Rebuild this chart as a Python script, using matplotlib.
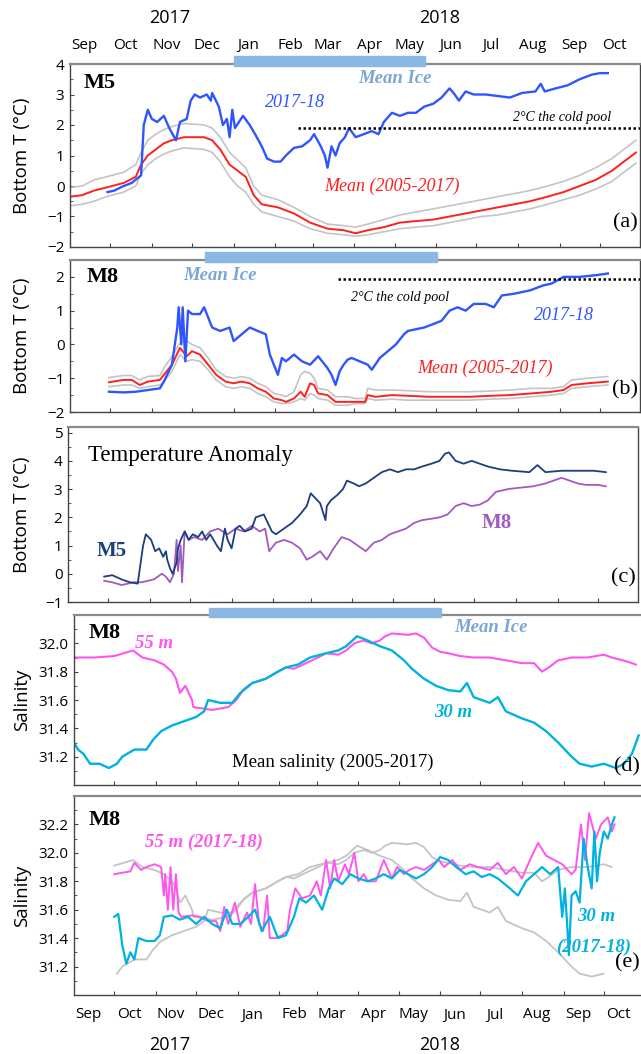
import numpy as np
import pandas as pd
import matplotlib
matplotlib.use('Agg')
import matplotlib.pyplot as plt
import matplotlib.dates as mdates
from matplotlib.patches import Rectangle
from matplotlib.ticker import MultipleLocator
from matplotlib.transforms import blended_transform_factory

# ---- data (days after 2017-09-01) ----
START = pd.Timestamp('2017-09-01')
END = pd.Timestamp('2018-10-31')

months = ['Sep', 'Oct', 'Nov', 'Dec', 'Jan', 'Feb', 'Mar', 'Apr', 'May',
          'Jun', 'Jul', 'Aug', 'Sep', 'Oct']
years = ['2017', '2018']
ice_a = ['2018-01-01', '2018-05-24']
ice_bd = ['2017-12-11', '2018-06-02']

# (a) M5 bottom temperature
m5_obs_day = [28, 33, 40, 46, 53, 55, 58, 61, 65, 70, 74, 79, 82, 87, 90, 93, 97, 102,
              105, 106, 111, 114, 117, 119, 121, 123, 129, 134, 138, 143, 147, 152,
              157, 161, 167, 173, 179, 182, 187, 190, 192, 195, 198, 201, 205, 208,
              213, 219, 225, 230, 234, 240, 246, 252, 258, 264, 271, 277, 283, 286,
              290, 295, 301, 310, 319, 328, 337, 347, 351, 354, 362, 371, 380, 389,
              395, 401]
m5_obs = [-0.2, -0.15, 0.0, 0.1, 0.35, 2.0, 2.5, 2.2, 2.1, 2.3, 1.9, 1.5, 2.1, 2.2,
          2.8, 3.0, 2.9, 3.0, 2.8, 3.05, 2.6, 2.0, 2.2, 1.6, 2.5, 1.9, 2.3, 2.0, 1.7,
          1.3, 0.9, 0.8, 0.8, 1.0, 1.25, 1.3, 1.5, 1.7, 1.3, 1.0, 0.6, 1.3, 1.0, 1.4,
          1.6, 1.9, 1.6, 1.7, 1.8, 1.7, 2.1, 2.4, 2.3, 2.4, 2.4, 2.6, 2.7, 2.9, 3.2,
          3.05, 2.8, 3.1, 3.0, 3.0, 2.95, 2.9, 3.05, 3.1, 3.35, 3.1, 3.2, 3.3, 3.5,
          3.65, 3.7, 3.7]
m5_mean_day = [0, 9, 18, 27, 40, 49, 53, 58, 64, 70, 76, 85, 100, 106, 112, 119, 125,
               131, 137, 143, 155, 167, 179, 192, 204, 213, 222, 234, 246, 258, 271,
               283, 295, 307, 319, 331, 343, 356, 368, 380, 392, 404, 413, 422]
m5_mean = [-0.35, -0.3, -0.15, -0.05, 0.1, 0.3, 0.7, 1.0, 1.2, 1.4, 1.5, 1.6, 1.6, 1.5,
           1.2, 0.7, 0.5, 0.3, -0.3, -0.6, -0.7, -0.9, -1.2, -1.4, -1.45, -1.55, -1.45,
           -1.35, -1.2, -1.15, -1.1, -1.0, -0.9, -0.8, -0.7, -0.6, -0.5, -0.35, -0.2,
           0.0, 0.2, 0.5, 0.8, 1.1]
m5_upper = [-0.05, 0.0, 0.2, 0.3, 0.45, 0.7, 1.1, 1.5, 1.7, 1.85, 1.95, 2.05, 2.0, 1.9,
            1.6, 1.1, 0.85, 0.6, 0.0, -0.3, -0.45, -0.7, -1.0, -1.25, -1.3, -1.35, -1.25,
            -1.1, -0.95, -0.85, -0.75, -0.65, -0.55, -0.45, -0.35, -0.25, -0.15, 0.0,
            0.15, 0.35, 0.6, 0.9, 1.2, 1.5]
m5_lower = [-0.65, -0.6, -0.5, -0.35, -0.2, 0.0, 0.4, 0.7, 0.9, 1.05, 1.15, 1.25, 1.2,
            1.1, 0.8, 0.3, 0.0, -0.2, -0.6, -0.85, -1.0, -1.15, -1.4, -1.55, -1.6, -1.65,
            -1.6, -1.5, -1.4, -1.35, -1.3, -1.2, -1.1, -1.0, -0.95, -0.85, -0.75, -0.6,
            -0.45, -0.3, -0.1, 0.15, 0.45, 0.75]

# (b) M8 bottom temperature
m8_obs_day = [29, 40, 49, 58, 67, 70, 76, 80, 81, 83, 84, 86, 88, 91, 97, 100, 103, 106,
              112, 119, 122, 128, 134, 140, 146, 149, 152, 155, 158, 161, 167, 173, 179,
              185, 192, 195, 198, 201, 204, 207, 210, 216, 222, 225, 231, 237, 243, 249,
              252, 264, 277, 283, 289, 295, 301, 310, 316, 322, 331, 343, 353, 359, 368,
              380, 392, 401]
m8_obs = [-1.4, -1.42, -1.4, -1.35, -1.3, -1.1, -0.6, 0.5, 1.1, 0.0, 1.1, -0.5, 1.0, 0.9,
          0.9, 1.1, 0.8, 0.5, 0.4, 0.5, 0.1, 0.3, 0.5, 0.4, 0.3, -0.3, -0.6, -0.9, -0.4,
          -0.5, -0.3, -0.5, -0.6, -0.35, -0.7, -0.9, -1.2, -0.8, -0.6, -0.45, -0.4, -0.5,
          -0.6, -0.75, -0.4, -0.2, 0.0, 0.3, 0.4, 0.5, 0.7, 1.0, 1.1, 1.0, 1.2, 1.2, 1.1,
          1.45, 1.5, 1.6, 1.75, 1.8, 2.0, 2.0, 2.05, 2.1]
m8_mean_day = [29, 40, 46, 52, 58, 67, 70, 76, 82, 87, 91, 97, 103, 109, 116, 122, 128,
               134, 140, 146, 152, 158, 161, 167, 172, 175, 179, 182, 185, 192, 198, 207,
               213, 220, 222, 228, 240, 252, 268, 283, 298, 313, 328, 344, 359, 368, 374,
               386, 401]
m8_mean = [-1.12, -1.05, -1.05, -1.2, -1.1, -1.05, -0.9, -0.6, -0.1, -0.35, -0.2, -0.3,
           -0.6, -0.9, -1.1, -1.15, -1.1, -1.15, -1.3, -1.4, -1.6, -1.65, -1.7, -1.6, -1.4,
           -1.55, -1.15, -1.2, -1.45, -1.5, -1.7, -1.7, -1.7, -1.7, -1.5, -1.55, -1.5,
           -1.52, -1.55, -1.55, -1.55, -1.52, -1.5, -1.45, -1.4, -1.35, -1.2, -1.15, -1.1]
m8_upper = [-0.98, -0.92, -0.92, -1.05, -0.95, -0.92, -0.7, -0.35, 0.05, 0.1, 0.0, -0.1,
            -0.4, -0.75, -0.95, -1.0, -0.95, -1.0, -1.15, -1.25, -1.45, -1.5, -1.55, -1.4,
            -0.9, -0.8, -0.85, -1.0, -1.3, -1.35, -1.55, -1.55, -1.6, -1.6, -1.3, -1.35,
            -1.35, -1.37, -1.4, -1.4, -1.4, -1.38, -1.35, -1.3, -1.3, -1.25, -1.05, -1.0,
            -0.95]
m8_lower = [-1.25, -1.2, -1.2, -1.3, -1.25, -1.2, -1.1, -0.8, -0.3, -0.5, -0.45, -0.5,
            -0.75, -1.05, -1.25, -1.3, -1.25, -1.3, -1.45, -1.55, -1.7, -1.75, -1.75,
            -1.7, -1.6, -1.65, -1.45, -1.5, -1.6, -1.65, -1.8, -1.8, -1.75, -1.75, -1.6,
            -1.65, -1.62, -1.65, -1.65, -1.65, -1.65, -1.62, -1.6, -1.55, -1.5, -1.45,
            -1.3, -1.25, -1.2]

# (c) temperature anomaly
anom_m5_day = [27, 33, 40, 46, 52, 53, 56, 58, 62, 65, 68, 71, 73, 74, 76, 78, 81, 82, 84,
               87, 90, 93, 97, 100, 103, 106, 111, 114, 117, 119, 122, 125, 128, 132, 137,
               140, 146, 149, 152, 155, 161, 167, 173, 178, 181, 184, 188, 192, 193, 196,
               201, 205, 208, 213, 217, 222, 228, 234, 240, 246, 252, 258, 264, 271, 277,
               281, 284, 289, 295, 301, 307, 313, 322, 331, 344, 350, 356, 368, 380, 392,
               401]
anom_m5 = [-0.1, -0.05, -0.2, -0.3, -0.35, 0.0, 1.0, 1.4, 1.2, 0.8, 0.9, 0.6, 0.8, 0.5,
           0.2, 0.0, 0.4, 0.9, 1.2, 1.5, 1.2, 1.4, 1.3, 1.5, 1.2, 1.4, 1.0, 0.8, 1.6, 1.2,
           0.9, 1.6, 1.7, 1.5, 1.6, 2.0, 2.1, 1.8, 1.5, 1.4, 1.6, 1.8, 2.1, 2.4, 2.85, 2.7,
           2.5, 1.9, 2.4, 2.6, 2.8, 3.0, 3.3, 3.2, 3.1, 3.2, 3.4, 3.6, 3.7, 3.6, 3.7, 3.7,
           3.8, 3.9, 4.0, 4.25, 4.3, 4.0, 3.9, 4.0, 3.9, 3.8, 3.7, 3.65, 3.6, 3.85, 3.6,
           3.65, 3.65, 3.65, 3.6]
anom_m8_day = [27, 33, 40, 49, 55, 64, 70, 73, 76, 79, 81, 82, 84, 85, 87, 90, 94, 100,
               106, 112, 119, 125, 131, 137, 143, 147, 150, 155, 161, 167, 173, 178, 182,
               188, 193, 198, 204, 210, 216, 222, 228, 234, 240, 246, 252, 258, 264, 271,
               277, 283, 289, 295, 301, 307, 313, 319, 328, 337, 347, 356, 362, 368, 374,
               380, 386, 395, 401]
anom_m8 = [-0.25, -0.3, -0.4, -0.3, -0.3, -0.2, 0.0, -0.1, -0.3, 0.0, 1.2, 0.1, 1.0,
           -0.3, 1.5, 1.2, 1.3, 1.2, 1.5, 1.6, 1.4, 1.6, 1.5, 1.7, 1.5, 1.6, 0.8, 1.1, 1.2,
           1.1, 0.9, 0.5, 0.6, 0.8, 0.5, 0.9, 1.3, 1.2, 1.0, 0.8, 1.1, 1.2, 1.4, 1.5, 1.6,
           1.8, 1.9, 1.95, 2.0, 2.1, 2.4, 2.5, 2.4, 2.45, 2.6, 2.9, 3.0, 3.05, 3.1, 3.2,
           3.3, 3.4, 3.3, 3.2, 3.15, 3.15, 3.1]

# (d) M8 mean salinity 2005-2017
sal55_day = [0, 15, 30, 44, 51, 60, 67, 73, 76, 79, 83, 88, 89, 103, 115, 121, 127, 133,
             143, 152, 158, 164, 173, 182, 188, 197, 203, 209, 216, 222, 228, 232, 237,
             249, 255, 261, 267, 273, 279, 288, 298, 310, 322, 334, 343, 349, 354, 361,
             371, 383, 395, 401, 413, 419]
sal55 = [31.9, 31.9, 31.91, 31.95, 31.9, 31.88, 31.85, 31.8, 31.75, 31.65, 31.7, 31.6,
         31.55, 31.53, 31.55, 31.6, 31.68, 31.72, 31.75, 31.8, 31.83, 31.82, 31.86, 31.9,
         31.93, 31.92, 31.95, 32.0, 32.02, 32.0, 32.02, 32.05, 32.07, 32.06, 32.07, 32.04,
         31.97, 31.94, 31.93, 31.91, 31.9, 31.9, 31.88, 31.86, 31.86, 31.8, 31.83, 31.88,
         31.9, 31.9, 31.92, 31.9, 31.87, 31.85]
sal30_day = [0, 3, 7, 12, 19, 26, 32, 36, 45, 54, 59, 65, 73, 82, 91, 97, 100, 109, 118,
             124, 133, 143, 152, 158, 167, 176, 188, 197, 203, 211, 219, 228, 237, 246,
             252, 261, 270, 279, 288, 293, 298, 310, 316, 322, 334, 343, 352, 361, 371,
             377, 386, 395, 404, 410, 416, 421]
sal30 = [31.3, 31.25, 31.22, 31.15, 31.15, 31.12, 31.15, 31.2, 31.25, 31.25, 31.32,
         31.38, 31.42, 31.45, 31.48, 31.52, 31.6, 31.58, 31.58, 31.65, 31.72, 31.75, 31.8,
         31.83, 31.85, 31.9, 31.93, 31.95, 31.98, 32.05, 32.02, 31.98, 31.95, 31.88, 31.82,
         31.75, 31.7, 31.67, 31.66, 31.72, 31.62, 31.58, 31.62, 31.52, 31.47, 31.44, 31.38,
         31.3, 31.2, 31.15, 31.13, 31.15, 31.12, 31.15, 31.22, 31.35]

# (e) M8 salinity 2017-18
sal55_obs_day = [30, 36, 42, 45, 50, 54, 60, 65, 67, 68, 70, 72, 74, 76, 78, 80, 88, 94,
                 100, 106, 109, 112, 115, 120, 124, 129, 132, 135, 138, 141, 144, 146, 150,
                 155, 159, 161, 165, 170, 176, 181, 184, 188, 191, 194, 197, 202, 205, 209,
                 212, 216, 219, 225, 231, 237, 241, 246, 250, 255, 261, 267, 272, 276, 282,
                 288, 295, 301, 310, 316, 322, 328, 334, 340, 346, 352, 358, 364, 371, 374,
                 378, 381, 384, 389, 393, 398, 401, 403]
sal55_obs = [31.85, 31.86, 31.87, 31.93, 31.88, 31.9, 31.92, 31.9, 31.7, 31.85, 31.6,
             31.9, 31.6, 31.85, 31.58, 31.55, 31.56, 31.55, 31.52, 31.52, 31.45, 31.62,
             31.5, 31.65, 31.48, 31.58, 31.5, 31.78, 31.5, 31.45, 31.7, 31.4, 31.4, 31.42,
             31.45, 31.6, 31.75, 31.68, 31.7, 31.8, 31.7, 31.95, 31.75, 31.95, 31.8, 31.92,
             31.85, 32.0, 31.8, 31.85, 31.8, 31.8, 31.95, 31.82, 31.9, 31.85, 31.88, 31.9,
             31.88, 31.92, 31.95, 31.9, 31.95, 31.88, 31.92, 31.9, 31.88, 31.93, 31.85,
             31.9, 31.82, 31.95, 32.07, 31.98, 31.95, 31.92, 31.85, 31.88, 32.2, 31.95,
             32.28, 32.1, 32.2, 32.25, 32.15, 32.2]
sal30_obs_day = [30, 33, 36, 39, 42, 45, 48, 54, 60, 64, 67, 73, 79, 85, 91, 97, 103, 109,
                 114, 118, 124, 130, 135, 140, 146, 152, 158, 164, 168, 173, 179, 185, 190,
                 194, 200, 206, 212, 219, 225, 231, 237, 243, 249, 255, 261, 267, 273, 279,
                 285, 292, 298, 304, 310, 316, 325, 331, 337, 343, 349, 355, 361, 364, 366,
                 368, 369, 371, 374, 377, 380, 383, 386, 388, 390, 392, 395, 398, 401, 403]
sal30_obs = [31.55, 31.57, 31.35, 31.22, 31.3, 31.25, 31.4, 31.38, 31.38, 31.42, 31.55,
             31.56, 31.53, 31.55, 31.5, 31.55, 31.5, 31.47, 31.6, 31.5, 31.5, 31.55, 31.6,
             31.45, 31.55, 31.4, 31.42, 31.55, 31.68, 31.65, 31.7, 31.6, 31.75, 31.82,
             31.78, 31.85, 31.82, 31.8, 31.82, 31.85, 31.82, 31.88, 31.85, 31.82, 31.85,
             31.9, 31.97, 31.95, 31.9, 31.85, 31.87, 31.83, 31.85, 31.82, 31.75, 31.7, 31.8,
             31.85, 31.9, 31.85, 31.9, 31.55, 31.75, 31.45, 31.28, 31.7, 31.73, 31.65, 32.1,
             31.9, 31.75, 32.15, 31.8, 32.0, 32.15, 32.1, 32.2, 32.25]

# ---- style ----
W, H = 641, 1054
SANS = 'Open Sans'
SERIF = 'Liberation Serif'
BLUE = '#2f55ff'
RED = '#ff1f1f'
GREY = '#c4c4c4'
NAVY = '#1b3e7e'
PURPLE = '#a05ac2'
MAGENTA = '#ff55ee'
CYAN = '#00b2e0'
ICE = '#8bb8e2'
ICE_TXT = '#7aa6d6'


def to_dates(day):
    return START + pd.to_timedelta(np.asarray(day), unit='D')


def axes_box(fig, left, top, bottom, width=570):
    """Axes rectangle given in pixels of the original picture."""
    return fig.add_axes([left / W, 1 - bottom / H, width / W, (bottom - top) / H])


def setup_axis(ax, ylim, major, minor, ylabel, left, fmt=None):
    ax.set_xlim(mdates.date2num(START), mdates.date2num(END))
    ax.set_ylim(*ylim)
    ticks = pd.date_range('2017-10-01', '2018-10-01', freq='MS')
    ax.set_xticks(mdates.date2num(ticks))
    ax.tick_params(axis='x', direction='in', length=3, labelbottom=False, color='#444444')
    ax.yaxis.set_major_locator(MultipleLocator(major))
    ax.yaxis.set_minor_locator(MultipleLocator(minor))
    ax.tick_params(axis='y', which='both', direction='in', length=3, color='#444444',
                   labelsize=11, pad=4)
    ax.tick_params(axis='y', which='minor', length=2)
    if fmt:
        ax.yaxis.set_major_formatter(fmt)
    for lab in ax.get_yticklabels():
        lab.set_family(SANS)
    for side in ['left', 'bottom', 'right']:
        ax.spines[side].set_color('#444444')
        ax.spines[side].set_linewidth(1.0)
    ax.spines['top'].set_color('#8a8a8a')
    ax.spines['top'].set_linewidth(1.6)
    ax.set_ylabel(ylabel, family=SANS, fontsize=13.5, va='center')
    # label centred about 22 px from the left edge of the picture
    ax.yaxis.set_label_coords((22 - left) / 570, 0.5)


def ice_bar(ax, span, y0, y1):
    tr = blended_transform_factory(ax.transData, ax.transAxes)
    x0, x1 = mdates.date2num(pd.to_datetime(span))
    ax.add_patch(Rectangle((x0, y0), x1 - x0, y1 - y0, transform=tr, color=ICE,
                           clip_on=False, zorder=5))


def note(ax, x, y, s, **kw):
    kw.setdefault('family', SERIF)
    ax.text(x, y, s, transform=ax.transAxes, **kw)


def month_labels(ax, y):
    tr = blended_transform_factory(ax.transData, ax.transAxes)
    pos = pd.date_range('2017-09-01', '2018-10-01', freq='MS') + pd.Timedelta(days=11)
    for m, p in zip(months, mdates.date2num(pos)):
        ax.text(p, y, m, transform=tr, ha='center', va='center', family=SANS,
                fontsize=11, clip_on=False)


fig = plt.figure(figsize=(W / 100, H / 100), dpi=100)

# (a)
ax = axes_box(fig, 70, 64, 247)
setup_axis(ax, (-2, 4), 1, 0.5, 'Bottom T (°C)', 70)
ax.plot(to_dates(m5_mean_day), m5_upper, color=GREY, lw=1.2)
ax.plot(to_dates(m5_mean_day), m5_lower, color=GREY, lw=1.2)
ax.plot(to_dates(m5_mean_day), m5_mean, color=RED, lw=1.4)
ax.plot(to_dates(m5_obs_day), m5_obs, color=BLUE, lw=1.7)
ax.hlines(1.9, mdates.date2num(pd.Timestamp('2018-02-18')), mdates.date2num(END),
          colors='black', linestyles=(0, (1, 1)), lw=1.8)
ice_bar(ax, ice_a, 0.989, 1.044)
month_labels(ax, 1 + 19 / 183)
note(ax, 0.023, 0.896, 'M5', fontsize=16, weight='bold', va='center')
note(ax, 0.570, 0.923, 'Mean Ice', fontsize=13.5, weight='bold', style='italic',
     color=ICE_TXT, ha='center', va='center')
note(ax, 0.395, 0.792, '2017-18', fontsize=13, style='italic', color=BLUE,
     ha='center', va='center')
note(ax, 0.863, 0.71, '2°C the cold pool', fontsize=10, style='italic',
     ha='center', va='center')
note(ax, 0.565, 0.33, 'Mean (2005-2017)', fontsize=13, style='italic', color=RED,
     ha='center', va='center')
note(ax, 0.996, 0.131, '(a)', fontsize=16, ha='right', va='center')

# (b)
ax = axes_box(fig, 70, 260, 412)
setup_axis(ax, (-2, 2.5), 1, 0.5, 'Bottom T (°C)', 70)
ax.plot(to_dates(m8_mean_day), m8_upper, color=GREY, lw=1.2)
ax.plot(to_dates(m8_mean_day), m8_lower, color=GREY, lw=1.2)
ax.plot(to_dates(m8_mean_day), m8_mean, color=RED, lw=1.4)
ax.plot(to_dates(m8_obs_day), m8_obs, color=BLUE, lw=1.7)
ax.hlines(1.95, mdates.date2num(pd.Timestamp('2018-03-20')), mdates.date2num(END),
          colors='black', linestyles=(0, (1, 1)), lw=1.8)
ice_bar(ax, ice_bd, 0.987, 1.053)
note(ax, 0.03, 0.888, 'M8', fontsize=16, weight='bold', va='center')
note(ax, 0.263, 0.90, 'Mean Ice', fontsize=13.5, weight='bold', style='italic',
     color=ICE_TXT, ha='center', va='center')
note(ax, 0.579, 0.75, '2°C the cold pool', fontsize=10, style='italic',
     ha='center', va='center')
note(ax, 0.867, 0.638, '2017-18', fontsize=13, style='italic', color=BLUE,
     ha='center', va='center')
note(ax, 0.728, 0.29, 'Mean (2005-2017)', fontsize=13, style='italic', color=RED,
     ha='center', va='center')
note(ax, 0.996, 0.145, '(b)', fontsize=16, ha='right', va='center')

# (c)
ax = axes_box(fig, 68, 427, 602)
setup_axis(ax, (-1, 5.2), 1, 0.5, 'Bottom T (°C)', 68)
ax.plot(to_dates(anom_m8_day), anom_m8, color=PURPLE, lw=1.3)
ax.plot(to_dates(anom_m5_day), anom_m5, color=NAVY, lw=1.3)
note(ax, 0.035, 0.84, 'Temperature Anomaly', fontsize=16.5, va='center')
note(ax, 0.051, 0.291, 'M5', fontsize=15, weight='bold', color=NAVY, va='center')
note(ax, 0.726, 0.451, 'M8', fontsize=15, weight='bold', color=PURPLE, va='center')
note(ax, 0.996, 0.137, '(c)', fontsize=16, ha='right', va='center')

# (d)
fmt = matplotlib.ticker.FormatStrFormatter('%.1f')
ax = axes_box(fig, 74, 615, 785)
setup_axis(ax, (31.0, 32.2), 0.2, 0.1, 'Salinity', 74, fmt)
ax.set_yticks([31.2, 31.4, 31.6, 31.8, 32.0])
ax.plot(to_dates(sal55_day), sal55, color=MAGENTA, lw=1.5)
ax.plot(to_dates(sal30_day), sal30, color=CYAN, lw=1.7)
ice_bar(ax, ice_bd, 0.988, 1.041)
note(ax, 0.025, 0.894, 'M8', fontsize=16, weight='bold', va='center')
note(ax, 0.107, 0.835, '55 m', fontsize=13.5, weight='bold', style='italic',
     color=MAGENTA, va='center')
note(ax, 0.732, 0.929, 'Mean Ice', fontsize=13.5, weight='bold', style='italic',
     color=ICE_TXT, ha='center', va='center')
note(ax, 0.665, 0.424, '30 m', fontsize=13.5, weight='bold', style='italic',
     color=CYAN, ha='center', va='center')
note(ax, 0.454, 0.135, 'Mean salinity (2005-2017)', fontsize=13.5, ha='center',
     va='center')
note(ax, 0.993, 0.106, '(d)', fontsize=16, ha='right', va='center')

# (e)
ax = axes_box(fig, 74, 796, 995)
setup_axis(ax, (31.0, 32.4), 0.2, 0.1, 'Salinity', 74, fmt)
ax.set_yticks([31.2, 31.4, 31.6, 31.8, 32.0, 32.2])
d55, d30 = np.asarray(sal55_day), np.asarray(sal30_day)
k55 = (d55 >= 29) & (d55 <= 402)
k30 = (d30 >= 29) & (d30 <= 402)
ax.plot(to_dates(d55[k55]), np.asarray(sal55)[k55], color=GREY, lw=1.3)
ax.plot(to_dates(d30[k30]), np.asarray(sal30)[k30], color=GREY, lw=1.3)
ax.plot(to_dates(sal55_obs_day), sal55_obs, color=MAGENTA, lw=1.4)
ax.plot(to_dates(sal30_obs_day), sal30_obs, color=CYAN, lw=1.6)
month_labels(ax, -20 / 199)
note(ax, 0.026, 0.879, 'M8', fontsize=16, weight='bold', va='center')
note(ax, 0.125, 0.769, '55 m (2017-18)', fontsize=13.5, weight='bold', style='italic',
     color=MAGENTA, va='center')
note(ax, 0.916, 0.392, '30 m', fontsize=13.5, weight='bold', style='italic',
     color=CYAN, ha='center', va='center')
note(ax, 0.912, 0.241, '(2017-18)', fontsize=13.5, weight='bold', style='italic',
     color=CYAN, ha='center', va='center')
note(ax, 0.993, 0.161, '(e)', fontsize=16, ha='right', va='center')

# year labels
for yr, x in zip(years, [170, 440]):
    fig.text(x / W, 1 - 18 / H, yr, ha='center', va='center', family=SANS, fontsize=13)
    fig.text(x / W, 1 - 1045 / H, yr, ha='center', va='center', family=SANS, fontsize=13)

fig.savefig('out.png', dpi=100)
